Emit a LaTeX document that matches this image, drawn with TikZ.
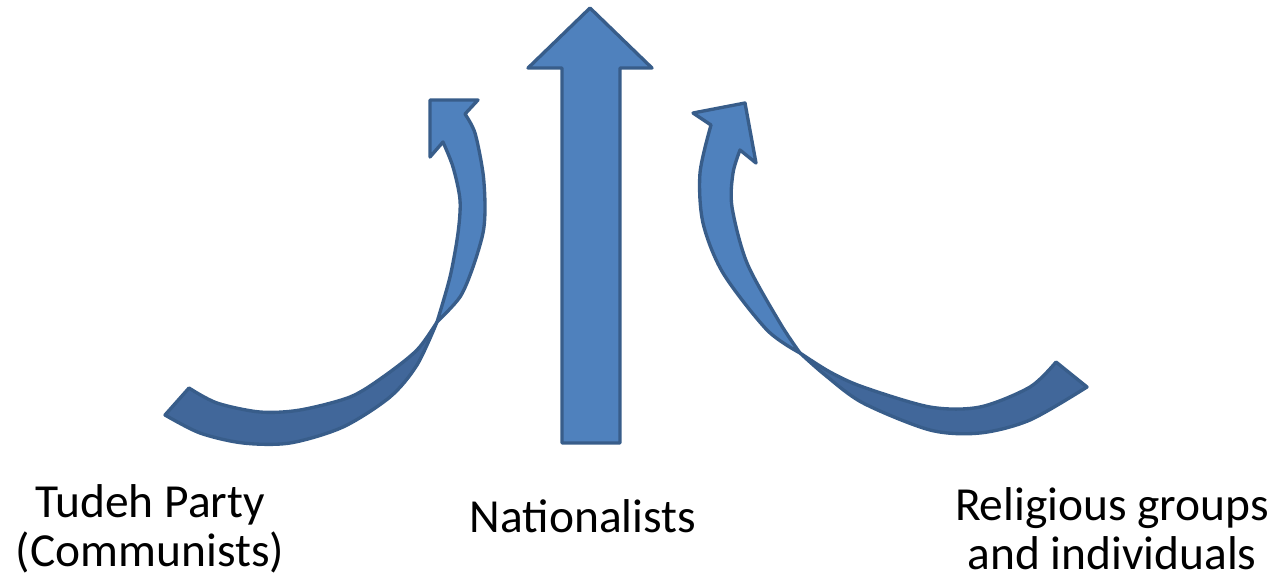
\documentclass[tikz,border=0pt]{standalone}
\usepackage{fontspec}
\setmainfont{Carlito}
\usetikzlibrary{positioning}

\definecolor{arrowfill}{HTML}{4F81BD}
\definecolor{arrowback}{HTML}{41679A}
\definecolor{arrowline}{HTML}{385D8A}

\begin{document}
\begin{tikzpicture}[
    x=0.02cm, y=-0.02cm,
    front/.style={fill=arrowfill, draw=arrowline, line width=1.9pt, line join=round},
    back/.style={fill=arrowback, draw=arrowline, line width=1.9pt, line join=round},
    label/.style={font=\fontsize{27}{27.5}\selectfont, align=center, inner sep=0pt, anchor=base},
]
    \useasboundingbox (0,0) rectangle (1278,582);

    % Centre arrow
    \filldraw[front] (562,443) -- (562,68) -- (528,68) -- (590,8) -- (652,68)
        -- (620,68) -- (620,443) -- cycle;

    % Left curved arrow (tail, then head)
    \filldraw[back] plot[smooth] coordinates {(437,322) (417,350) (383,377) (350,397) (300,410) (260,412) (217,403) (189,388)}
        -- plot[smooth] coordinates {(165,415) (200,433) (243,443) (290,443) (343,427) (390,397) (417,365) (437,322)} -- cycle;
    \filldraw[front] plot[smooth] coordinates {(437,322) (450,277) (458,233) (460,200) (453,167) (443,142)}
        -- (430,157) -- (430,100) -- (478,100)
        -- plot[smooth] coordinates {(465,114) (475,133) (483,173) (485,207) (483,233) (473,267) (460,297) (437,322)} -- cycle;

    % Right curved arrow (tail, then head)
    \filldraw[back] plot[smooth] coordinates {(800,353) (830,372) (863,387) (930,407) (980,407) (1030,387) (1056,362)}
        -- plot[smooth] coordinates {(1087,387) (1030,420) (980,433) (930,430) (863,403) (825,375) (800,353)} -- cycle;
    \filldraw[front] plot[smooth] coordinates {(800,353) (780,323) (747,263) (732,207) (733,173) (740,150)}
        -- (756,163) -- (745,103) -- (693,113)
        -- plot[smooth] coordinates {(711,125) (700,173) (703,223) (723,273) (767,330) (800,353)} -- cycle;

    % Labels (base = last line)
    \node[label] (tudeh) at (150,566) {Tudeh Party\\(Communists)};
    \node[label] (nationalists) at (583,532) {Nationalists};
    \node[label] (religious) at (1112,569) {Religious groups\\and individuals};
\end{tikzpicture}
\end{document}
